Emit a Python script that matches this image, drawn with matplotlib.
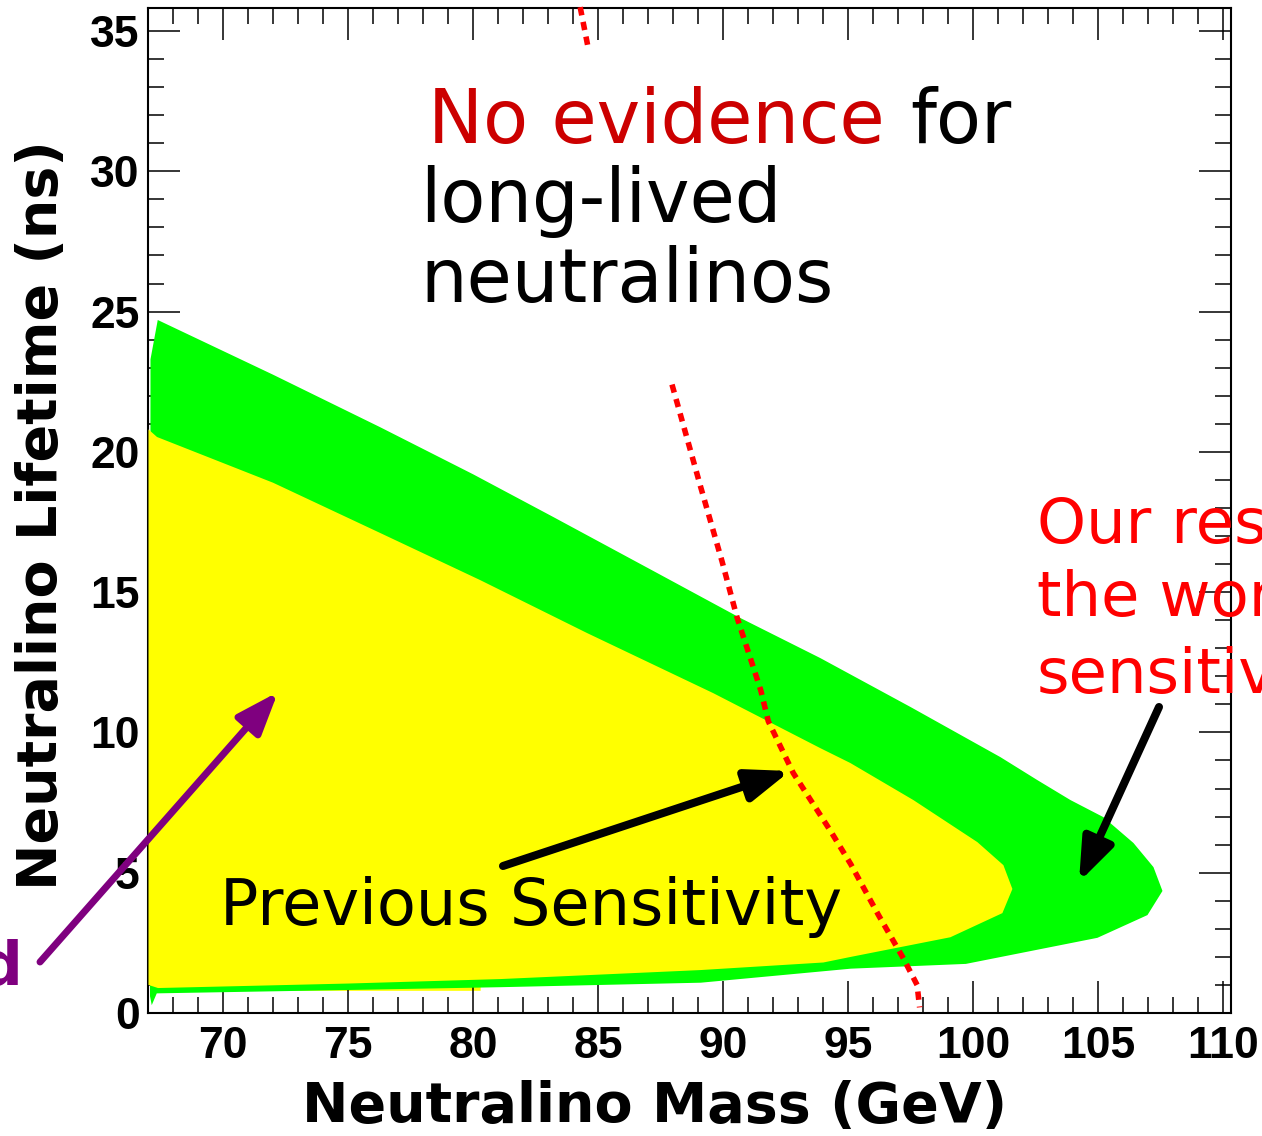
import matplotlib
matplotlib.use("Agg")
import matplotlib.pyplot as plt
import numpy as np

W, H = 1262, 1136

# ---------------- data ----------------
# Our result (green) region boundary: mass (GeV), lifetime (ns)
green_mass = [67.15, 67.08, 67.10, 67.39, 72.0, 76.28, 80.0, 83.2, 87.36, 90.68, 93.88,
              97.5, 101.08, 102.56, 103.88, 105.2, 106.4, 107.2, 107.56, 106.96, 104.96,
              99.7, 95.1, 89.1, 81.1, 75.0, 67.35]
green_life = [0.28, 0.60, 23.3, 24.7, 22.75, 20.88, 19.2, 17.68, 15.68, 14.08, 12.65,
              10.9, 9.12, 8.30, 7.59, 6.98, 6.06, 5.2, 4.35, 3.49, 2.68,
              1.75, 1.58, 1.08, 0.92, 0.82, 0.70]

# Previous sensitivity (yellow) region boundary
yellow_mass = [67.02, 67.02, 67.36, 72.0, 76.28, 80.28, 84.56, 87.08, 89.6, 93.88, 95.08,
               97.6, 100.16, 101.2, 101.56, 101.16, 99.08, 95.1, 94.0, 89.08, 81.1, 75.0, 67.4]
yellow_life = [1.0, 20.8, 20.53, 18.9, 17.11, 15.43, 13.54, 12.47, 11.40, 9.44, 8.91,
               7.59, 6.09, 5.27, 4.42, 3.56, 2.70, 2.0, 1.8, 1.53, 1.21, 1.05, 0.89]

# small previous-sensitivity strip at the bottom
strip_mass = [67.4, 80.3, 80.3, 67.4]
strip_life = [0.79, 0.79, 1.1, 1.0]

# red dotted curve (two visible pieces)
red_top_mass = [84.28, 84.62]
red_top_life = [35.85, 34.3]
red_mass = [87.95, 89.08, 89.95, 90.55, 91.1, 91.5, 91.8, 92.8, 94.28, 95.1, 96.2, 97.2, 97.75, 97.85]
red_life = [22.4, 18.8, 16.1, 14.1, 12.6, 11.5, 10.4, 8.55, 6.5, 5.3, 3.5, 1.95, 1.0, 0.2]

x_ticks = [70, 75, 80, 85, 90, 95, 100, 105, 110]
y_ticks = [0, 5, 10, 15, 20, 25, 30, 35]

# ---------------- figure ----------------
fig = plt.figure(figsize=(W / 100, H / 100), dpi=100)
ax = fig.add_axes([148 / W, 1 - 1013 / H, (1231 - 148) / W, (1013 - 8) / H])
ax.set_xlim(67, 110.3)
ax.set_ylim(0, 35.82)

ax.fill(strip_mass, strip_life, color="#ffff00", lw=0, zorder=1)
ax.fill(green_mass, green_life, color="#00ff00", lw=0, zorder=2)
ax.fill(yellow_mass, yellow_life, color="#ffff00", lw=0, zorder=3)

red_style = dict(color="#ff0000", lw=4.0, linestyle=(0, (1.5, 1.2)), zorder=5,
                 solid_capstyle="butt", dash_capstyle="butt", clip_on=False)
ax.plot(red_top_mass, red_top_life, **red_style)
ax.plot(red_mass, red_life, **red_style)

# ticks: ROOT-like, inward on all sides
ax.set_xticks(x_ticks)
ax.set_yticks(y_ticks)
ax.set_xticks(np.arange(67, 111, 1), minor=True)
ax.set_yticks(np.arange(0, 36, 1), minor=True)
ax.tick_params(which="both", direction="in", top=True, right=True, width=1.1, color="black")
ax.tick_params(which="major", length=23)
ax.tick_params(which="minor", length=11.5)
ax.tick_params(axis="x", which="major", pad=9)
ax.tick_params(axis="y", which="major", pad=6)
for sp in ax.spines.values():
    sp.set_linewidth(1.5)

tick_font = dict(family="Liberation Sans", weight="bold")
ax.set_xticklabels([str(v) for v in x_ticks], fontsize=32, **tick_font)
ax.set_yticklabels([str(v) for v in y_ticks], fontsize=32, **tick_font)

lab_font = dict(family="DejaVu Sans", weight="bold")
fig.text(655 / W, 1 - 1122 / H, "Neutralino Mass (GeV)", ha="center", va="baseline",
         fontsize=40, **lab_font)
fig.text(42 / W, 1 - 515 / H, "Neutralino Lifetime (ns)", ha="center", va="center",
         rotation=90, fontsize=40, **lab_font)

# ---------------- annotation texts ----------------
tf = dict(family="DejaVu Sans", va="baseline", transform=fig.transFigure)
fig.text(428 / W, 1 - 143 / H, "No evidence", color="#cc0000", fontsize=53, **tf)
fig.text(910 / W, 1 - 143 / H, "for", color="black", fontsize=53, **tf)
fig.text(420 / W, 1 - 222 / H, "long-lived", color="black", fontsize=53, **tf)
fig.text(420 / W, 1 - 302 / H, "neutralinos", color="black", fontsize=53, **tf)

fig.text(220 / W, 1 - 925 / H, "Previous Sensitivity", color="black", fontsize=46, **tf)

fig.text(1037 / W, 1 - 543 / H, "Our result is", color="#ff0000", fontsize=45, **tf)
fig.text(1037 / W, 1 - 616 / H, "the world's best", color="#ff0000", fontsize=45, **tf)
fig.text(1037 / W, 1 - 693 / H, "sensitivity", color="#ff0000", fontsize=45, **tf)

fig.text(22 / W, 1 - 985 / H, "d", color="#7f007f", fontsize=43, weight="bold",
         family="DejaVu Sans", ha="right", va="baseline")

# ---------------- arrows ----------------
def arrow(x0, y0, x1, y1, color, lw):
    fig.add_artist(matplotlib.patches.FancyArrowPatch(
        (x0 / W, 1 - y0 / H), (x1 / W, 1 - y1 / H), transform=fig.transFigure,
        arrowstyle="-|>,head_length=1.6,head_width=0.6", mutation_scale=16,
        color=color, lw=lw, zorder=10, shrinkA=0, shrinkB=0))

arrow(503, 866, 790, 771, "black", 5.8)
arrow(1159, 707, 1079, 882, "black", 5.8)
arrow(40, 962, 278, 692, "#7f007f", 5.0)

fig.savefig("out.png", dpi=100)
